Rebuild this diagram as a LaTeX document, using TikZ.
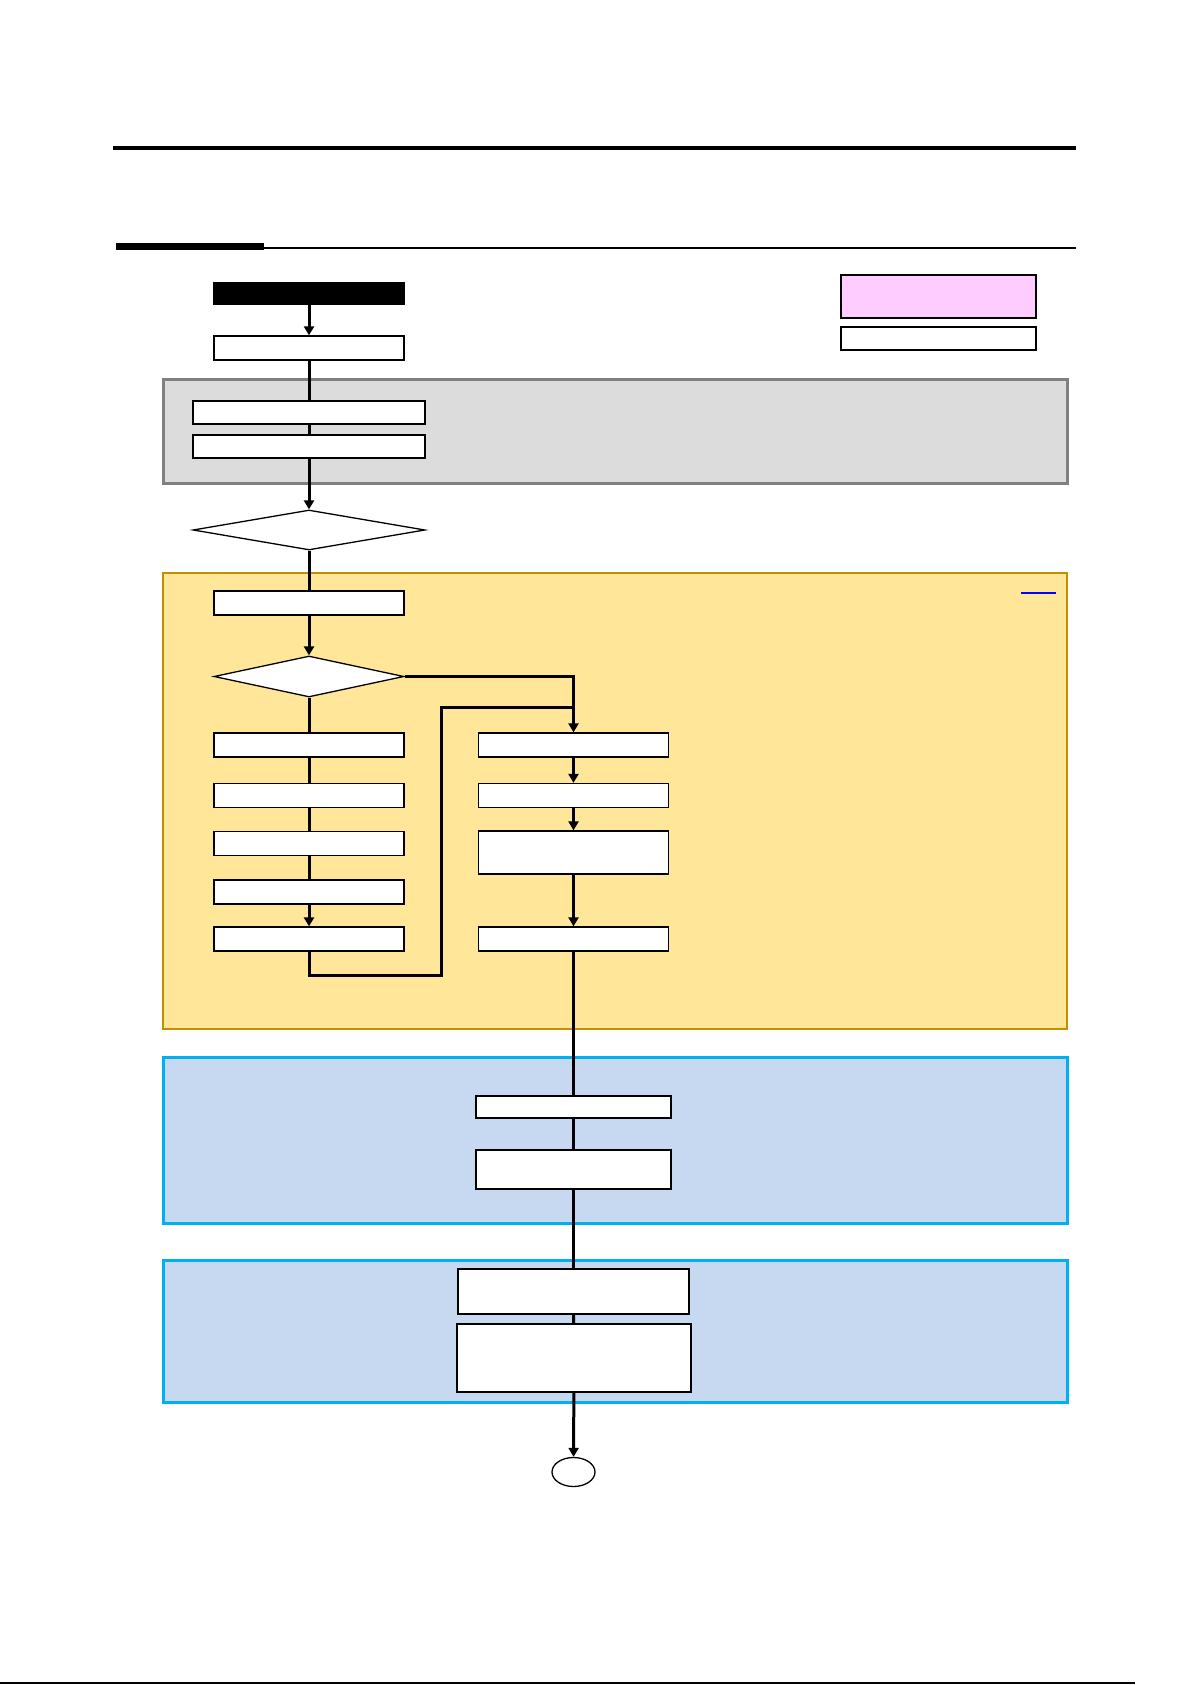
\documentclass[tikz,border=0pt]{standalone}
\usetikzlibrary{shapes.geometric,arrows.meta,positioning}

\definecolor{greyfill}{HTML}{DCDCDC}
\definecolor{greyline}{HTML}{808080}
\definecolor{yellowfill}{HTML}{FFE699}
\definecolor{yellowline}{HTML}{BF9000}
\definecolor{bluefill}{HTML}{C6D9F1}
\definecolor{blueline}{HTML}{00B0F0}
\definecolor{pinkfill}{HTML}{FFCCFF}

\begin{document}
\begin{tikzpicture}[
  x=1pt, y=-1pt,
  stepbox/.style={rectangle, draw, line width=1.3pt, fill=white, inner sep=0pt,
                  minimum width=190pt, minimum height=24pt},
  widebox/.style={stepbox, minimum width=232pt, minimum height=23pt},
  startbox/.style={stepbox, fill=black, minimum height=21pt},
  decision/.style={diamond, draw, line width=1.3pt, fill=white, inner sep=0pt,
                   minimum width=190pt, minimum height=41pt},
  region/.style={rectangle, inner sep=0pt, minimum width=904pt},
  flow/.style={line width=3pt},
  arrow/.style={flow, -{Triangle[length=9pt,width=10pt]}}
]
  \useasboundingbox (0,0) rectangle (1192,1685);

  % page rules
  \draw[line width=4.3pt] (113,148) -- (1076,148);
  \draw[line width=7pt] (116,247) -- (264,247);
  \draw[line width=1.2pt] (264,248) -- (1076,248);
  \draw[line width=1.2pt] (0,1683) -- (1135,1683);

  % background regions
  \node[region, fill=greyfill, draw=greyline, line width=3pt, minimum height=104pt] (prep) at (615,431) {};
  \node[region, fill=yellowfill, draw=yellowline, line width=1.3pt, minimum height=456pt] (main) at (615,801) {};
  \node[region, fill=bluefill, draw=blueline, line width=3pt, minimum height=166pt] (check) at (615,1140) {};
  \node[region, fill=bluefill, draw=blueline, line width=3pt, minimum height=142pt] (close) at (615,1331) {};
  \draw[blue, line width=1.5pt] (1021,593) -- (1056,593);

  % legend
  \node[stepbox, fill=pinkfill, minimum width=195pt, minimum height=43pt] (legA) at (938.5,296.5) {};
  \node[stepbox, minimum width=195pt, minimum height=23pt] (legB) at (938.5,338.5) {};

  % left column
  \node[startbox] (start) at (309,293.5) {};
  \node[stepbox] (recv) at (309,348) {};
  \node[widebox] (regA) at (309,412.5) {};
  \node[widebox] (regB) at (309,446.5) {};
  \node[decision, minimum width=232pt, minimum height=40pt] (ask) at (309,530) {};
  \node[stepbox] (plan) at (309,603) {};
  \node[decision] (route) at (309,676.5) {};
  \node[stepbox] (leftA) at (309,745) {};
  \node[stepbox] (leftB) at (309,795.5) {};
  \node[stepbox] (leftC) at (309,843.5) {};
  \node[stepbox] (leftD) at (309,892) {};
  \node[stepbox] (leftE) at (309,939) {};

  % right column
  \node[stepbox] (rightA) at (573.5,745) {};
  \node[stepbox] (rightB) at (573.5,795.5) {};
  \node[stepbox, minimum height=43pt] (rightC) at (573.5,852.5) {};
  \node[stepbox] (rightD) at (573.5,939) {};

  % lower blocks
  \node[stepbox, minimum width=195pt, minimum height=22pt] (testA) at (573.5,1107) {};
  \node[stepbox, minimum width=195pt, minimum height=39pt] (testB) at (573.5,1169.5) {};
  \node[stepbox, minimum width=231pt, minimum height=45pt] (doneA) at (573.5,1291.5) {};
  \node[stepbox, minimum width=234pt, minimum height=68pt] (doneB) at (574,1358) {};
  \node[ellipse, draw, line width=1.3pt, fill=white, inner sep=0pt,
        minimum width=43pt, minimum height=29pt] (finish) at (573.5,1472) {};

  \coordinate (loopR) at (441,975);
  \coordinate (join) at (573.5,707);

  % connectors
  \draw[arrow] (start) -- (recv);
  \draw[flow] (recv) -- (regA);
  \draw[flow] (regA) -- (regB);
  \draw[arrow] (regB) -- (ask);
  \draw[flow] (ask) -- (plan);
  \draw[arrow] (plan) -- (route);
  \draw[flow] (route) -- (leftA);
  \draw[flow] (leftA) -- (leftB);
  \draw[flow] (leftB) -- (leftC);
  \draw[flow] (leftC) -- (leftD);
  \draw[arrow] (leftD) -- (leftE);
  \draw[arrow] (route.east) -| (rightA.north);
  \draw[flow] (leftE.south) |- (loopR) |- (join);
  \draw[arrow] (rightA) -- (rightB);
  \draw[arrow] (rightB) -- (rightC);
  \draw[arrow] (rightC) -- (rightD);
  \draw[flow] (rightD) -- (testA);
  \draw[flow] (testA) -- (testB);
  \draw[flow] (testB) -- (doneA);
  \draw[flow] (doneA) -- (doneB);
  \draw[arrow] (doneB) -- (finish);
\end{tikzpicture}
\end{document}
